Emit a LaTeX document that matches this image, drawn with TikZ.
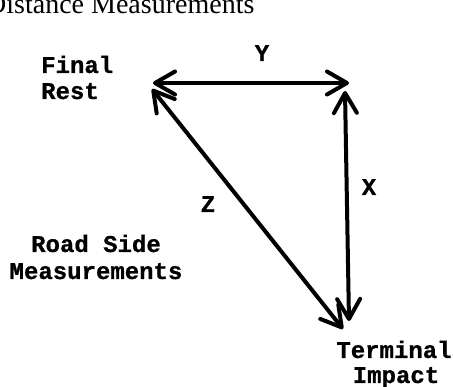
\documentclass[tikz,border=0pt]{standalone}
\usepackage{fontspec}
\setmainfont{Liberation Serif}
\newfontfamily\labfont{Liberation Mono}[BoldFeatures={FakeBold=0.8}]
\usetikzlibrary{arrows.meta}
\tikzset{
  lab/.style={font=\labfont\bfseries\fontsize{24}{26}\selectfont, inner sep=0pt, anchor=base},
  labw/.style={lab, anchor=base west},
  meas/.style={line width=4pt, line cap=round,
    {Straight Barb[length=20pt,width=23pt,line cap=round,line join=round]}-{Straight Barb[length=20pt,width=23pt,line cap=round,line join=round]}}
}
\begin{document}
\begin{tikzpicture}[x=1pt,y=-1pt]
\useasboundingbox (0,0) rectangle (453,387);
\node[inner sep=0pt, anchor=base west, font=\fontsize{28}{30}\selectfont] (title) at (-14,14) {Distance Measurements};
\node[labw] (final) at (41,73) {Final};
\node[labw] (rest) at (41,99) {Rest};
\node[lab] (road) at (96,252) {Road Side};
\node[lab] (measure) at (96,279) {Measurements};
\node[lab] (terminal) at (394,358) {Terminal};
\node[lab] (impact) at (396,383) {Impact};
\node[lab] (ylab) at (262,61) {Y};
\node[lab] (zlab) at (208,212) {Z};
\node[lab] (xlab) at (369,195) {X};
\coordinate (yL) at (153,83);
\coordinate (yR) at (349,83);
\coordinate (zT) at (152,89);
\coordinate (zB) at (343,329);
\coordinate (xT) at (345,91);
\coordinate (xB) at (349,321);
\draw[meas] (yL) -- (yR);
\draw[meas] (zT) -- (zB);
\draw[meas] (xT) -- (xB);
\end{tikzpicture}
\end{document}
